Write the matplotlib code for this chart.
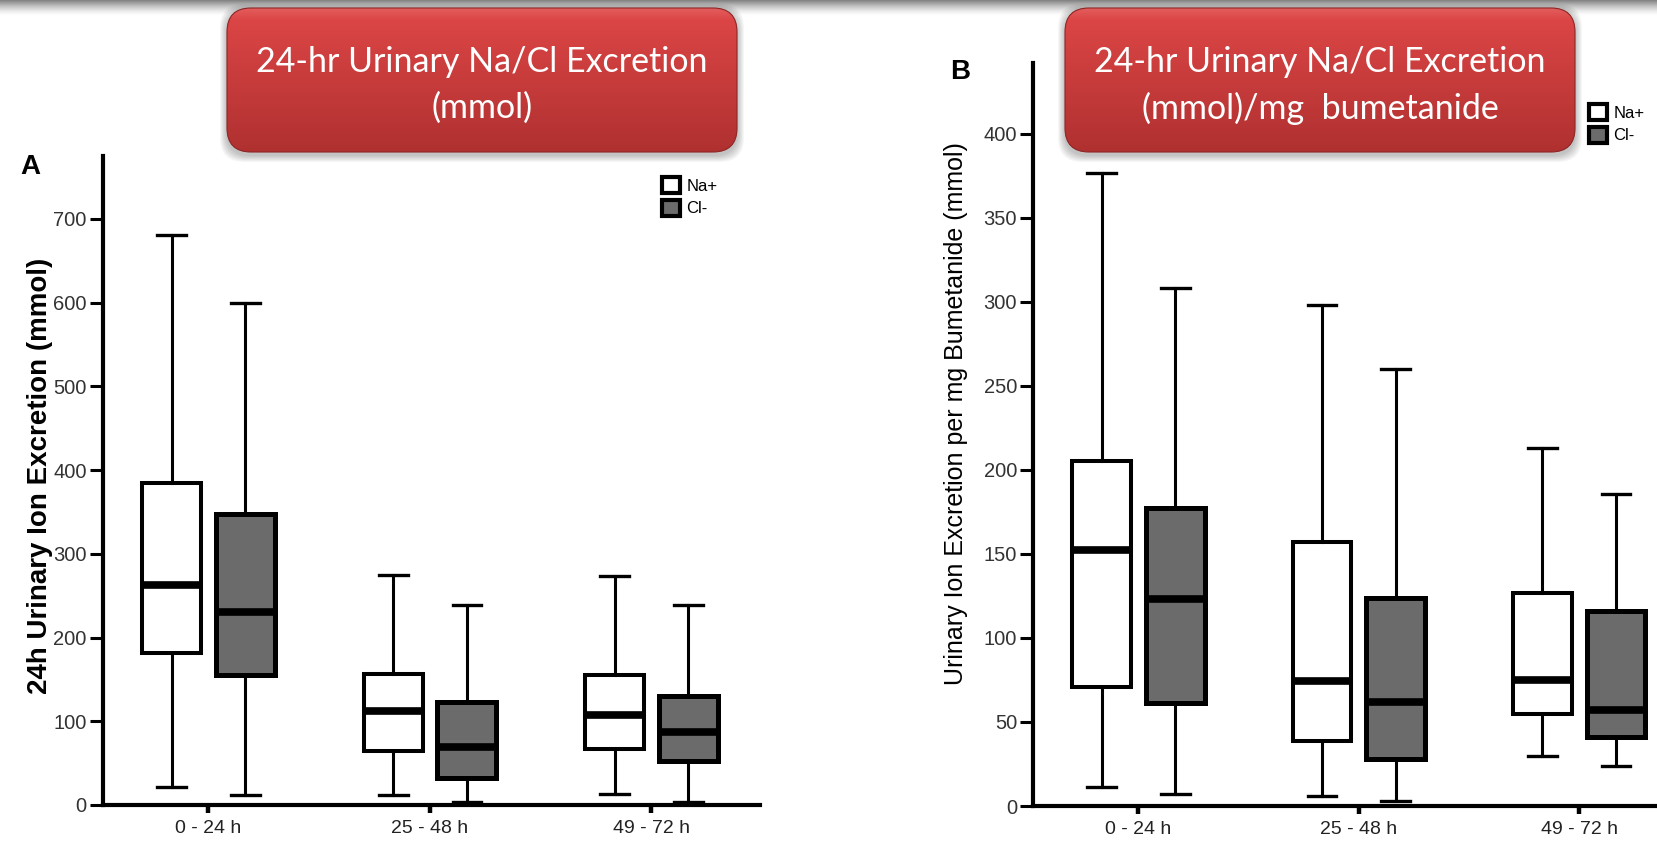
import numpy as np
import matplotlib
matplotlib.use('Agg')
import matplotlib.pyplot as plt
from matplotlib.patches import FancyBboxPatch, Patch

plt.rcParams['font.family'] = ['Liberation Sans', 'DejaVu Sans']

W, H = 1657, 844

periods = ['0 - 24 h', '25 - 48 h', '49 - 72 h']

# panel A - mmol (whisker low, Q1, median, Q3, whisker high)
na_a_lo = [22, 12, 13]
na_a_q1 = [181, 65, 67]
na_a_med = [263, 112, 107]
na_a_q3 = [385, 157, 155]
na_a_hi = [681, 275, 274]
cl_a_lo = [12, 4, 3]
cl_a_q1 = [155, 32, 53]
cl_a_med = [231, 69, 87]
cl_a_q3 = [347, 123, 130]
cl_a_hi = [599, 239, 239]

# panel B - mmol per mg bumetanide
na_b_lo = [11.6, 6, 30]
na_b_q1 = [70.5, 38.5, 54.5]
na_b_med = [152, 74.5, 75]
na_b_q3 = [205, 157, 126.5]
na_b_hi = [376.5, 298, 213]
cl_b_lo = [7, 3, 24]
cl_b_q1 = [61, 28, 41]
cl_b_med = [123, 62, 57]
cl_b_q3 = [177, 124, 116]
cl_b_hi = [308, 260, 185.5]

grey = '#6b6b6b'


def stats(lo, q1, med, q3, hi):
    return [dict(whislo=a, q1=b, med=c, q3=d, whishi=e, fliers=[])
            for a, b, c, d, e in zip(lo, q1, med, q3, hi)]


def boxes(ax, st, pos, face, lw):
    ax.bxp(st, positions=pos, widths=0.266, patch_artist=True, showfliers=False,
           capwidths=0.13,
           boxprops=dict(facecolor=face, edgecolor='black', linewidth=lw),
           medianprops=dict(color='black', linewidth=5.5, solid_capstyle='butt'),
           whiskerprops=dict(color='black', linewidth=2.2),
           capprops=dict(color='black', linewidth=2.4))


def style(ax, ymax, step):
    x = np.arange(len(periods))
    ax.set_xlim(-0.478, 2.49)
    ax.set_ylim(0, ymax)
    ax.set_xticks(x)
    ax.set_xticklabels(periods, fontsize=14, color='#222222')
    ax.set_yticks(np.arange(0, ymax, step))
    ax.tick_params(axis='y', length=9.5, width=2.2, pad=2, labelsize=14.5, labelcolor='#333333')
    ax.tick_params(axis='x', length=6, width=3.2, pad=5)
    for s in ['top', 'right']:
        ax.spines[s].set_visible(False)
    for s in ['left', 'bottom']:
        ax.spines[s].set_linewidth(3)
    ax.patch.set_alpha(0)


fig = plt.figure(figsize=(W / 100, H / 100), dpi=100)

x = np.arange(len(periods))

axA = fig.add_axes([102.5 / W, 1 - 805 / H, (760 - 102.5) / W, (805 - 156) / H])
boxes(axA, stats(na_a_lo, na_a_q1, na_a_med, na_a_q3, na_a_hi), x - 0.165, 'white', 2.9)
boxes(axA, stats(cl_a_lo, cl_a_q1, cl_a_med, cl_a_q3, cl_a_hi), x + 0.167, grey, 3.6)
style(axA, 775, 100)
axA.set_ylabel('24h Urinary Ion Excretion (mmol)', fontsize=20, fontweight='bold', va='center')
axA.yaxis.set_label_coords(-0.095, 0.507)

axB = fig.add_axes([1033 / W, 1 - 806 / H, (1687 - 1033) / W, (806 - 63) / H])
boxes(axB, stats(na_b_lo, na_b_q1, na_b_med, na_b_q3, na_b_hi), x - 0.166, 'white', 2.9)
boxes(axB, stats(cl_b_lo, cl_b_q1, cl_b_med, cl_b_q3, cl_b_hi), x + 0.168, grey, 3.6)
style(axB, 442, 50)
axB.set_ylabel('Urinary Ion Excretion per mg Bumetanide (mmol)', fontsize=18, va='center')
axB.yaxis.set_label_coords(-0.118, 0.528)

# legends
for ax, (lx, ly) in [(axA, (662, 177)), (axB, (1589, 104))]:
    hand = [Patch(facecolor='white', edgecolor='black', lw=3, label='Na+'),
            Patch(facecolor=grey, edgecolor='black', lw=3, label='Cl-')]
    ax.legend(handles=hand, loc='upper left', bbox_to_anchor=(lx / W, 1 - ly / H),
              bbox_transform=fig.transFigure, frameon=False, fontsize=12,
              handlelength=1.1, handleheight=1.1, handletextpad=0.35,
              labelspacing=0.35, borderpad=0, borderaxespad=0)

fig.text(30 / W, 1 - 167 / H, 'A', fontsize=20, fontweight='bold', ha='center', va='center')
fig.text(960 / W, 1 - 72 / H, 'B', fontsize=20, fontweight='bold', ha='center', va='center')

# overlay in pixel coords for the title banners
ov = fig.add_axes([0, 0, 1, 1], zorder=5)
ov.set_xlim(0, W)
ov.set_ylim(H, 0)
ov.axis('off')
ov.patch.set_alpha(0)

# grey header shadow at the very top
band = np.linspace(0, 1, 40).reshape(-1, 1)
ov.imshow(np.dstack([np.full_like(band, 0.45)] * 3 + [(1 - band) ** 1.5 * 0.9]),
          extent=(0, W, 16, 0), aspect='auto', interpolation='bilinear')

red = np.array([[0.89, 0.36, 0.36], [0.86, 0.27, 0.27], [0.69, 0.19, 0.19]])
banners = [((227, 8, 510, 144), ['24-hr Urinary Na/Cl Excretion', '(mmol)']),
           ((1065, 8, 510, 144), ['24-hr Urinary Na/Cl Excretion', '(mmol)/mg  bumetanide'])]
r = 24
for (bx, by, bw, bh), lines in banners:
    for k in range(7, 0, -1):
        sh = FancyBboxPatch((bx + r - k, by + r + 3 - k), bw - 2 * r + 2 * k, bh - 2 * r + 2 * k,
                            boxstyle=f'round,pad={r}', fc='black', ec='none', alpha=0.035, zorder=1)
        ov.add_patch(sh)
    box = FancyBboxPatch((bx + r, by + r), bw - 2 * r, bh - 2 * r,
                         boxstyle=f'round,pad={r}', fc='none', ec='#8e2626', lw=0.8, zorder=3)
    ov.add_patch(box)
    t = np.linspace(0, 1, 100)
    grad = np.empty((100, 1, 3))
    for c in range(3):
        grad[:, 0, c] = np.interp(t, [0, 0.08, 1], red[:, c])
    im = ov.imshow(grad, extent=(bx, bx + bw, by + bh, by), aspect='auto',
                   interpolation='bilinear', zorder=2)
    im.set_clip_path(box)
    ov.text(bx + bw / 2, by + 54, lines[0], color='white', fontsize=24.5, family='Lato',
            ha='center', va='center', zorder=4)
    ov.text(bx + bw / 2, by + 100, lines[1], color='white', fontsize=24.5, family='Lato',
            ha='center', va='center', zorder=4)
ov.set_xlim(0, W)
ov.set_ylim(H, 0)

fig.savefig('out.png', dpi=100)
